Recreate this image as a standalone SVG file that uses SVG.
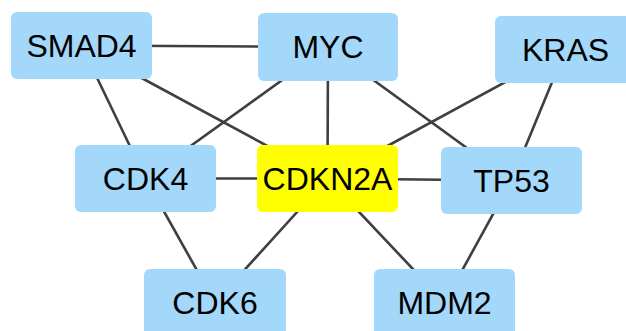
<svg xmlns="http://www.w3.org/2000/svg" width="626" height="331" viewBox="0 0 626 331">
<style>
.e{stroke:#3f3f3f;stroke-width:2.6;fill:none}
.n{fill:#a3d8fa}
.h{fill:#ffff00}
text{font-family:"Liberation Sans",Arial,sans-serif;font-size:32px;fill:#000;text-anchor:middle}
</style>
<rect width="626" height="331" fill="#fff"/>
<g id="edges">
<line class="e" x1="81.5" y1="45.5" x2="328" y2="47"/>
<line class="e" x1="81.5" y1="45.5" x2="145.5" y2="178.5"/>
<line class="e" x1="81.5" y1="45.5" x2="327.5" y2="178.5"/>
<line class="e" x1="328" y1="47" x2="145.5" y2="178.5"/>
<line class="e" x1="328" y1="47" x2="327.5" y2="178.5"/>
<line class="e" x1="328" y1="47" x2="511.5" y2="180.5"/>
<line class="e" x1="565.5" y1="49.5" x2="327.5" y2="178.5"/>
<line class="e" x1="565.5" y1="49.5" x2="511.5" y2="180.5"/>
<line class="e" x1="145.5" y1="178.5" x2="327.5" y2="178.5"/>
<line class="e" x1="327.5" y1="178.5" x2="511.5" y2="180.5"/>
<line class="e" x1="145.5" y1="178.5" x2="215" y2="302.5"/>
<line class="e" x1="327.5" y1="178.5" x2="215" y2="302.5"/>
<line class="e" x1="327.5" y1="178.5" x2="444.5" y2="302.5"/>
<line class="e" x1="511.5" y1="180.5" x2="444.5" y2="302.5"/>
</g>
<g id="SMAD4"><rect class="n" x="11" y="12" width="141" height="67" rx="6"/><text x="81.5" y="56.5">SMAD4</text></g>
<g id="MYC"><rect class="n" x="258" y="13" width="140" height="68" rx="6"/><text x="328" y="58">MYC</text></g>
<g id="KRAS"><rect class="n" x="495" y="16" width="141" height="67" rx="6"/><text x="565.5" y="60.5">KRAS</text></g>
<g id="CDK4"><rect class="n" x="75" y="145" width="141" height="67" rx="6"/><text x="145.5" y="189.5">CDK4</text></g>
<g id="CDKN2A"><rect class="h" x="257" y="145" width="141" height="67" rx="6"/><text x="327.5" y="189.5">CDKN2A</text></g>
<g id="TP53"><rect class="n" x="441" y="147" width="141" height="67" rx="6"/><text x="511.5" y="191.5">TP53</text></g>
<g id="CDK6"><rect class="n" x="144" y="269" width="142" height="67" rx="6"/><text x="215" y="313.5">CDK6</text></g>
<g id="MDM2"><rect class="n" x="374" y="269" width="141" height="67" rx="6"/><text x="444.5" y="313.5">MDM2</text></g>
</svg>
